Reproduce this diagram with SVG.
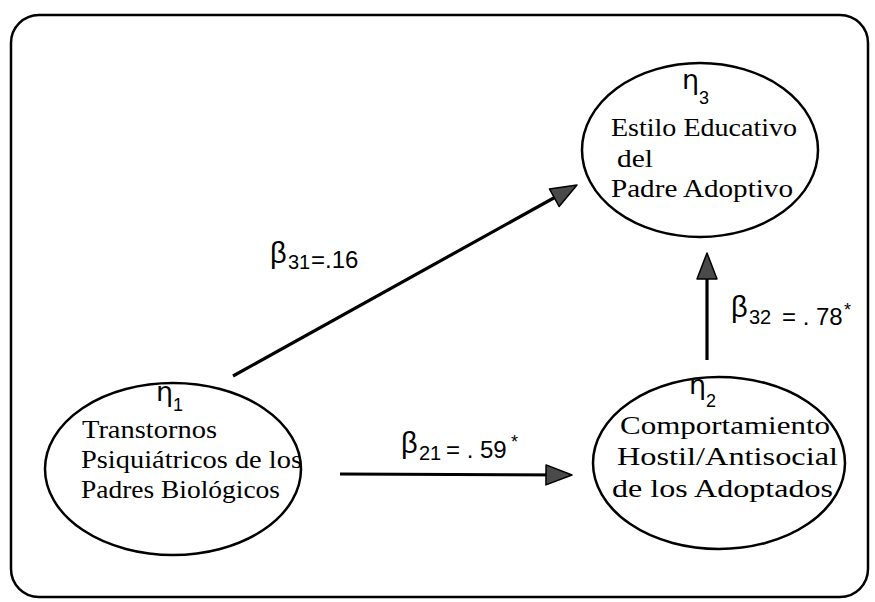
<svg xmlns="http://www.w3.org/2000/svg" width="875" height="602" viewBox="0 0 875 602">
<defs>
<style>
.frame{fill:none;stroke:#000;stroke-width:2.5}
.node ellipse{fill:#fff;stroke:#000;stroke-width:2.5}
.node text{font-family:"Liberation Serif","DejaVu Serif",serif;font-size:26px;fill:#000}
.node .eta{font-family:"DejaVu Sans","Liberation Sans",sans-serif;font-size:27px}
.node .sub{font-family:"Liberation Sans",sans-serif;font-size:18px}
.conn line{stroke:#000;stroke-width:3.2;fill:none}
.lab text{font-family:"Liberation Sans","DejaVu Sans",sans-serif;fill:#000}
.lab .b{font-size:29px}
.lab .s{font-size:20px}
.lab .v{font-size:24px}
.lab .st{font-size:18px}
</style>
<marker id="ah" markerUnits="userSpaceOnUse" markerWidth="30" markerHeight="24" refX="22" refY="10" orient="auto" viewBox="-2 -2 30 24">
<path d="M0,0 L26,10 L0,20 z" fill="#4a4a4a" stroke="#000" stroke-width="1.5" stroke-linejoin="round"/>
</marker>
</defs>
<rect class="frame" x="11" y="15" width="857" height="582" rx="28" ry="28"/>
<g class="conn">
<line x1="233" y1="376" x2="573.5" y2="187" marker-end="url(#ah)"/>
<line x1="340" y1="474" x2="568" y2="475" marker-end="url(#ah)"/>
<line x1="707" y1="360" x2="707" y2="257" marker-end="url(#ah)"/>
</g>
<g id="eta3" class="node">
<ellipse cx="700" cy="150" rx="118" ry="87"/>
<text class="eta" x="682" y="89">η</text>
<text class="sub" x="699" y="104">3</text>
<text x="611" y="136" textLength="186" lengthAdjust="spacingAndGlyphs">Estilo Educativo</text>
<text x="617" y="167" textLength="36" lengthAdjust="spacingAndGlyphs">del</text>
<text x="611" y="197" textLength="182" lengthAdjust="spacingAndGlyphs">Padre Adoptivo</text>
</g>
<g id="eta1" class="node">
<ellipse cx="173" cy="469" rx="128" ry="86"/>
<text class="eta" x="156" y="401">η</text>
<text class="sub" x="173" y="411">1</text>
<text x="82" y="438" textLength="135" lengthAdjust="spacingAndGlyphs">Transtornos</text>
<text x="81" y="468" textLength="221" lengthAdjust="spacingAndGlyphs">Psiquiátricos de los</text>
<text x="81" y="498" textLength="199" lengthAdjust="spacingAndGlyphs">Padres Biológicos</text>
</g>
<g id="eta2" class="node">
<ellipse cx="719" cy="463" rx="126" ry="86"/>
<text class="eta" x="689" y="394">η</text>
<text class="sub" x="706" y="407">2</text>
<text x="620" y="434" textLength="210" lengthAdjust="spacingAndGlyphs">Comportamiento</text>
<text x="617" y="465" textLength="221" lengthAdjust="spacingAndGlyphs">Hostil/Antisocial</text>
<text x="612" y="497" textLength="221" lengthAdjust="spacingAndGlyphs">de los Adoptados</text>
</g>
<g class="lab">
<text class="b" x="270" y="263">β</text>
<text class="s" x="288" y="269">31</text>
<text class="v" x="311" y="268">=.16</text>
<text class="b" x="401" y="453">β</text>
<text class="s" x="419" y="460">21</text>
<text class="v" x="446" y="458">= . 59</text>
<text class="st" x="511" y="448">*</text>
<text class="b" x="731" y="317">β</text>
<text class="s" x="749" y="324">32</text>
<text class="v" x="782" y="325">= . 78</text>
<text class="st" x="844" y="316">*</text>
</g>
</svg>
